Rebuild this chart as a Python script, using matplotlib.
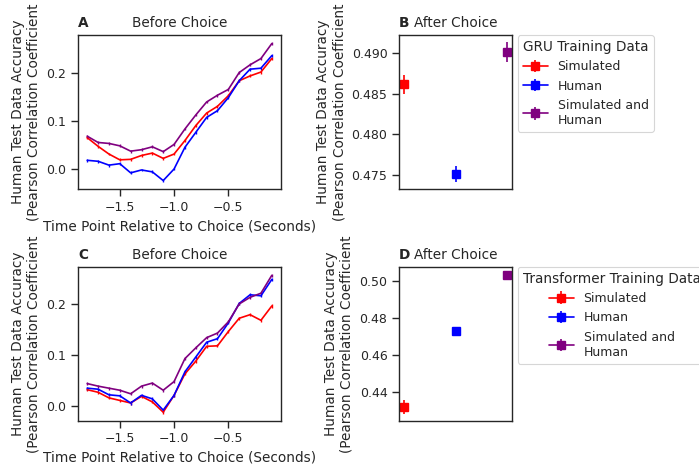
import matplotlib; matplotlib.use('Agg')
import matplotlib.pyplot as plt, numpy as np
import seaborn as sns

sns.set_theme(style='ticks', context='paper', font_scale=1.02)

# time points (seconds relative to choice)
time_s = [-1.8, -1.7, -1.6, -1.5, -1.4, -1.3, -1.2, -1.1, -1.0,
          -0.9, -0.8, -0.7, -0.6, -0.5, -0.4, -0.3, -0.2, -0.1]

# GRU, before choice
gru_sim = [0.066, 0.048, 0.032, 0.020, 0.021, 0.029, 0.034, 0.023, 0.032,
           0.060, 0.091, 0.117, 0.131, 0.153, 0.184, 0.194, 0.202, 0.230]
gru_hum = [0.019, 0.017, 0.009, 0.012, -0.007, -0.001, -0.005, -0.023, 0.001,
           0.046, 0.077, 0.108, 0.122, 0.149, 0.184, 0.208, 0.210, 0.236]
gru_both = [0.069, 0.056, 0.054, 0.049, 0.038, 0.041, 0.047, 0.037, 0.052,
            0.084, 0.113, 0.140, 0.154, 0.166, 0.201, 0.217, 0.230, 0.261]

# Transformer, before choice
tf_sim = [0.032, 0.027, 0.016, 0.011, 0.006, 0.019, 0.008, -0.012, 0.021,
          0.063, 0.088, 0.117, 0.118, 0.146, 0.172, 0.179, 0.168, 0.196]
tf_hum = [0.035, 0.033, 0.022, 0.020, 0.006, 0.021, 0.014, -0.008, 0.021,
          0.067, 0.096, 0.125, 0.132, 0.163, 0.201, 0.218, 0.216, 0.248]
tf_both = [0.044, 0.039, 0.035, 0.031, 0.024, 0.039, 0.045, 0.031, 0.048,
           0.093, 0.114, 0.134, 0.143, 0.165, 0.200, 0.213, 0.221, 0.256]

# small standard errors on the time-course curves
line_err = [0.003, 0.003, 0.003, 0.003, 0.003, 0.003, 0.003, 0.003, 0.003,
            0.003, 0.003, 0.003, 0.003, 0.003, 0.003, 0.003, 0.003, 0.003]

# after choice
groups = ['Simulated', 'Human', 'Simulated and\nHuman']
colors = ['red', 'blue', 'purple']
gru_after = [0.4862, 0.4751, 0.4902]
gru_after_err = [0.0012, 0.0010, 0.0012]
tf_after = [0.4321, 0.4730, 0.5029]
tf_after_err = [0.0036, 0.0010, 0.0008]

ylab = 'Human Test Data Accuracy\n(Pearson Correlation Coefficient'
xlab = 'Time Point Relative to Choice (Seconds)'

fig = plt.figure(figsize=(6.99, 4.69), dpi=100)
axA = fig.add_axes([0.1116, 0.597, 0.2904, 0.328])
axB = fig.add_axes([0.5708, 0.597, 0.1617, 0.328])
axC = fig.add_axes([0.1116, 0.103, 0.2904, 0.328])
axD = fig.add_axes([0.5708, 0.103, 0.1617, 0.328])

for ax, series, letter in [(axA, [gru_sim, gru_hum, gru_both], 'A'),
                           (axC, [tf_sim, tf_hum, tf_both], 'C')]:
    for y, c in zip(series, colors):
        ax.errorbar(time_s, y, yerr=line_err, color=c, lw=1.2, elinewidth=1.0)
    ax.set_xticks([-1.5, -1.0, -0.5])
    ax.set_yticks([0.0, 0.1, 0.2])
    ax.set_xlabel(xlab)
    ax.set_ylabel(ylab)
    ax.set_title(letter, loc='left', fontweight='bold')
    ax.set_title('Before Choice')

for ax, vals, errs, letter, title, ticks in [
        (axB, gru_after, gru_after_err, 'B', 'GRU Training Data',
         [0.475, 0.480, 0.485, 0.490]),
        (axD, tf_after, tf_after_err, 'D', 'Transformer Training Data',
         [0.44, 0.46, 0.48, 0.50])]:
    for i, (v, e, c, g) in enumerate(zip(vals, errs, colors, groups)):
        ax.errorbar([i], [v], yerr=[e], marker='s', ms=5.5, ls='-',
                    color=c, label=g)
    ax.set_xticks([])
    ax.set_yticks(ticks)
    ax.set_ylabel(ylab)
    ax.set_title(letter, loc='left', fontweight='bold')
    ax.set_title('After Choice')
    ax.legend(title=title, loc='upper left', bbox_to_anchor=(1.05, 1.0),
              borderaxespad=0)

fig.savefig('out.png', dpi=100)
